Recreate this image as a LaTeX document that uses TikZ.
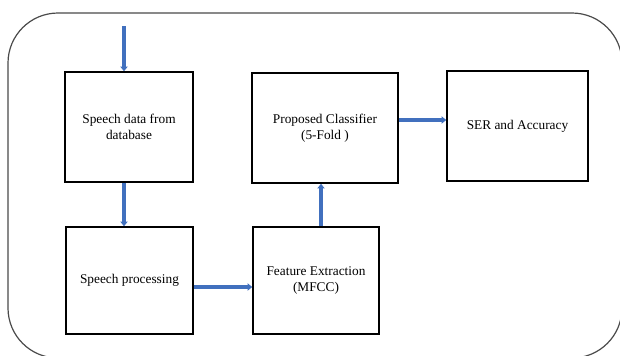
\documentclass[tikz,border=0pt]{standalone}
\usepackage{fontspec}
\setmainfont{Liberation Serif}
\usetikzlibrary{arrows.meta}
\definecolor{arrowblue}{HTML}{4170BE}
\definecolor{framegray}{HTML}{4A4A4A}
\tikzset{
  blockbox/.style={draw=black, line width=1.2pt, fill=white, align=center,
    font=\fontsize{10}{12}\selectfont, inner sep=2pt},
  flowarrow/.style={draw=arrowblue, line width=2.6pt,
    -{Stealth[length=3.5pt,width=5.5pt,inset=0pt]}},
}
\begin{document}
\begin{tikzpicture}[x=0.75pt, y=-0.75pt]
\useasboundingbox (0,0) rectangle (620,355);
\clip (0,0) rectangle (620,355);
\draw[framegray, line width=0.9pt, rounded corners=37.5pt] (8,13) rectangle (622,358);

\node[blockbox, minimum width=96pt, minimum height=82.5pt] (b1) at (129,127) {Speech data from\\database};
\node[blockbox, minimum width=95.25pt, minimum height=80.25pt] (b2) at (129.5,280.5) {Speech processing};
\node[blockbox, minimum width=94.5pt, minimum height=80.25pt] (b3) at (316,280.5) {Feature Extraction\\(MFCC)};
\node[blockbox, minimum width=109.5pt, minimum height=82.5pt] (b4) at (325,128) {Proposed Classifier\\(5-Fold )};
\node[blockbox, minimum width=105.75pt, minimum height=82.5pt] (b5) at (517.5,126) {SER and Accuracy};

\coordinate (in) at (124,26);
\draw[flowarrow] (in) -- (in |- b1.north);
\draw[flowarrow] (in |- b1.south) -- (in |- b2.north);
\draw[flowarrow] (b2.east |- 0,287) -- (b3.west |- 0,287);
\draw[flowarrow] (b3.north -| 321,0) -- (b4.south -| 321,0);
\draw[flowarrow] (b4.east |- 0,120) -- (b5.west |- 0,120);
\end{tikzpicture}
\end{document}
